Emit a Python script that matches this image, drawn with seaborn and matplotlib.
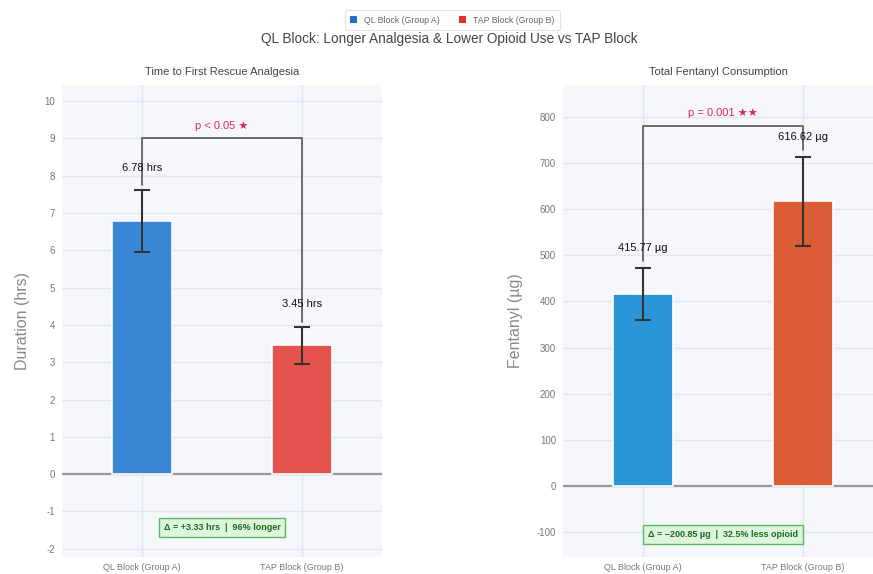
import matplotlib
matplotlib.use("Agg")
import matplotlib.pyplot as plt
from matplotlib.patches import Patch
import seaborn as sns
import pandas as pd

# Group labels and summary statistics
groups = ["QL Block (Group A)", "TAP Block (Group B)"]
rescue_hrs = [6.78, 3.45]
rescue_sd = [0.83, 0.50]
fentanyl_ug = [415.77, 616.62]
fentanyl_sd = [57.0, 97.0]

rescue_colors = ["#3a87d8", "#e5534f"]
fentanyl_colors = ["#2896d6", "#da5d35"]
legend_colors = ["#1f6fd0", "#e03030"]

rescue_ticks = list(range(-2, 11))
fentanyl_ticks = list(range(-100, 801, 100))

sns.set_theme(style="whitegrid")
plt.rcParams["font.family"] = ["Liberation Sans", "DejaVu Sans"]
plt.rcParams["axes.unicode_minus"] = False

fig = plt.figure(figsize=(8.73, 5.74), dpi=100)
ax1 = fig.add_axes([62 / 873, 17 / 574, 320 / 873, 472 / 574])
ax2 = fig.add_axes([563 / 873, 17 / 574, 310 / 873, 472 / 574])

GRID = "#e2e6ee"
BG = "#f5f7fd"


def panel(ax, values, sds, colors, ylim, ticks, title, ylabel, unit_fmt,
          p_text, p_off, bracket_y, leg_pad, lab_off, delta_text, delta_y):
    df = pd.DataFrame({"group": groups, "value": values})
    ax.set_facecolor(BG)
    ax.axhline(0, color="#9a9a9a", lw=1.6, zorder=1)
    sns.barplot(data=df, x="group", y="value", hue="group", palette=colors,
                order=groups, hue_order=groups, width=0.37, legend=False,
                saturation=1, edgecolor="white", linewidth=1.2, ax=ax,
                zorder=2, errorbar=None)
    ax.errorbar(range(len(values)), values, yerr=sds, fmt="none",
                ecolor="#333333", elinewidth=1.5, capsize=6, capthick=1.5, zorder=4)
    for i, (v, s) in enumerate(zip(values, sds)):
        ax.text(i, v + s + lab_off, unit_fmt(v), ha="center", va="center",
                fontsize=8, color="#111111", zorder=5)
    # significance bracket
    tops = [v + s + leg_pad for v, s in zip(values, sds)]
    ax.plot([0, 0, 1, 1], [tops[0], bracket_y, bracket_y, tops[1]],
            color="#555555", lw=1.2, zorder=3)
    ax.text(0.5, bracket_y + p_off, p_text, ha="center", va="center",
            fontsize=8, color="#e0245e")
    ax.text(0.5, delta_y, delta_text, ha="center", va="center", fontsize=6.5,
            color="#1d6b1d", fontweight="bold",
            bbox=dict(boxstyle="square,pad=0.55", fc="#dcf5dc", ec="#5cb85c", lw=1))
    ax.set_ylim(*ylim)
    ax.set_xlim(-0.5, 1.5 if ax is ax1 else 1.4375)
    ax.set_yticks(ticks)
    ax.grid(True, color=GRID, lw=1)
    ax.set_axisbelow(True)
    for sp in ax.spines.values():
        sp.set_visible(False)
    ax.tick_params(axis="y", labelsize=7, colors="#777777", length=0, pad=5)
    ax.tick_params(axis="x", labelsize=6.5, colors="#777777", length=0, pad=4)
    ax.set_xlabel("")
    ax.set_ylabel(ylabel, fontsize=11.5, color="#888888", labelpad=10)
    ax.set_title(title, fontsize=8, color="#444444", pad=7)


panel(ax1, rescue_hrs, rescue_sd, rescue_colors, (-2.22, 10.43), rescue_ticks,
      "Time to First Rescue Analgesia", "Duration (hrs)",
      lambda v: f"{v:.2f} hrs", "p < 0.05 \u2605", 0.33, 9.0, 0.13, 0.6,
      "\u0394 = +3.33 hrs  |  96% longer", -1.42)
panel(ax2, fentanyl_ug, fentanyl_sd, fentanyl_colors, (-154, 869), fentanyl_ticks,
      "Total Fentanyl Consumption", "Fentanyl (\u00b5g)",
      lambda v: f"{v:.2f} \u00b5g", "p = 0.001 \u2605\u2605", 29, 780, 15, 42,
      "\u0394 = \u2212200.85 \u00b5g  |  32.5% less opioid", -106)

fig.suptitle("QL Block: Longer Analgesia & Lower Opioid Use vs TAP Block",
             x=0.515, y=0.945, fontsize=9.8, color="#444444")
handles = [Patch(facecolor=c, edgecolor="none", label=g)
           for c, g in zip(legend_colors, groups)]
leg = fig.legend(handles=handles, loc="center", bbox_to_anchor=(0.518, 0.965), ncol=2,
                 fontsize=6.3, frameon=True, handlelength=0.8, handleheight=0.8,
                 columnspacing=2.2, borderpad=0.6)
leg.get_frame().set_edgecolor("#dddddd")
leg.get_frame().set_linewidth(0.8)
for t in leg.get_texts():
    t.set_color("#666666")

fig.savefig("out.png", dpi=100, facecolor="white")
